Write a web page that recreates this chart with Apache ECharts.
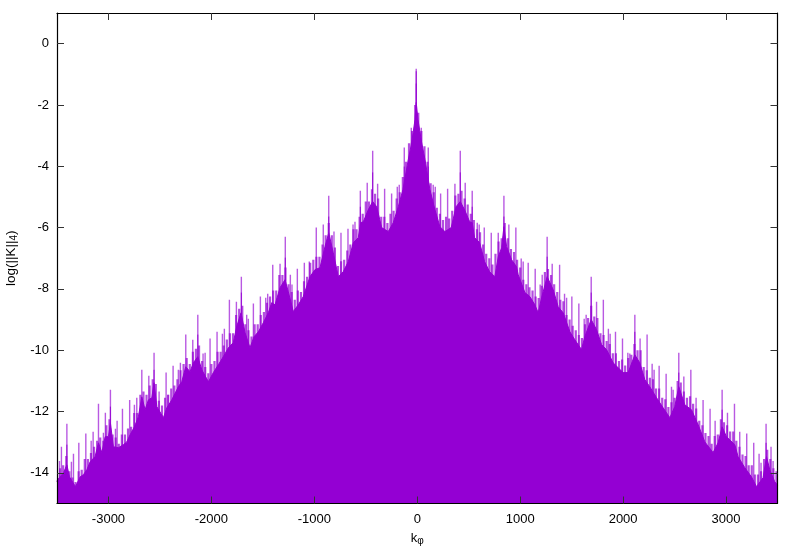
<!DOCTYPE html>
<html><head><meta charset="utf-8">
<style>html,body{margin:0;padding:0;background:#fff}#c{width:800px;height:560px}</style>
<script src="https://cdn.jsdelivr.net/npm/echarts@6/dist/echarts.min.js"></script>
</head><body><div id="c"></div>
<script>
const xTicks=[-3000,-2000,-1000,0,1000,2000,3000];
const yTicks=[0,-2,-4,-6,-8,-10,-12,-14];
const floorK=[-3500,-3496,-3437,-3404,-3379,-3321,-3275,-3243,-3210,-3178,-3130,-3097,-3064,-3032,-3000,-2981,-2952,-2903,-2855,-2822,-2790,-2748,-2709,-2676,-2644,-2612,-2579,-2557,-2530,-2466,-2433,-2385,-2321,-2288,-2249,-2207,-2175,-2132,-2093,-2029,-1981,-1932,-1884,-1835,-1787,-1754,-1712,-1673,-1625,-1586,-1544,-1495,-1447,-1414,-1382,-1333,-1285,-1253,-1204,-1156,-1107,-1042,-993,-945,-896,-860,-816,-767,-719,-670,-621,-573,-550,-524,-476,-433,-394,-346,-282,-233,-184,-139,-87,-54,-22,-10,7,43,75,123,172,220,269,330,377,418,460,509,534,557,606,654,703,754,787,820,842,868,917,965,981,1046,1094,1143,1175,1208,1262,1321,1369,1418,1483,1531,1596,1628,1690,1742,1791,1839,1903,2000,2049,2114,2162,2211,2259,2325,2389,2454,2502,2541,2599,2664,2729,2794,2874,2923,2962,3004,3085,3117,3182,3247,3296,3360,3393,3425,3473,3500];
const floorV=[-14.3,-14.23,-14.0,-13.74,-14.13,-14.45,-14.13,-14.06,-13.9,-13.64,-13.47,-13.02,-13.34,-12.82,-12.82,-12.37,-13.15,-13.18,-13.08,-12.99,-12.76,-12.5,-12.17,-11.52,-11.94,-11.62,-11.55,-11.06,-11.84,-12.2,-11.88,-11.62,-11.19,-11.03,-10.54,-10.7,-10.41,-10.21,-10.64,-11.03,-10.73,-10.47,-10.21,-9.92,-9.75,-9.23,-8.78,-9.43,-9.92,-9.56,-9.4,-9.1,-8.78,-8.45,-8.52,-7.96,-7.7,-8.09,-8.74,-8.52,-8.25,-7.6,-7.37,-7.31,-6.62,-6.17,-6.82,-7.6,-7.44,-7.11,-6.49,-6.33,-5.84,-5.81,-5.42,-5.15,-5.32,-6.0,-6.13,-5.84,-5.32,-4.76,-3.78,-3.23,-2.48,-1.92,-2.48,-3.23,-3.78,-4.76,-5.42,-5.97,-6.13,-6.0,-5.32,-5.15,-5.42,-5.81,-5.84,-6.33,-6.49,-7.11,-7.44,-7.6,-6.95,-6.66,-5.97,-6.62,-7.05,-7.28,-7.54,-8.12,-8.25,-8.52,-8.78,-8.29,-7.6,-8.03,-8.58,-8.78,-9.4,-9.66,-9.98,-9.56,-9.0,-9.33,-9.82,-9.98,-10.41,-10.73,-10.73,-10.15,-10.41,-10.96,-11.19,-11.55,-11.88,-12.2,-11.84,-11.19,-11.78,-11.94,-12.43,-12.99,-13.34,-13.02,-12.5,-12.82,-13.08,-13.47,-13.83,-14.13,-14.45,-14.16,-13.47,-13.9,-14.29,-14.4];
const peakK=[-3476,-3457,-3404,-3360,-3340,-3288,-3220,-3168,-3149,-3097,-3049,-3030,-2981,-2932,-2916,-2864,-2794,-2748,-2725,-2676,-2608,-2557,-2508,-2440,-2421,-2372,-2321,-2301,-2249,-2181,-2132,-2081,-2061,-2013,-1945,-1893,-1874,-1825,-1757,-1709,-1657,-1641,-1592,-1524,-1472,-1453,-1404,-1333,-1282,-1233,-1217,-1165,-1097,-1049,-981,-913,-860,-809,-741,-673,-624,-605,-553,-486,-433,-385,-317,-249,-194,-175,-126,-58,-10,39,107,155,175,227,295,366,418,466,534,583,602,651,719,787,842,890,958,1010,1029,1078,1146,1194,1214,1262,1311,1383,1431,1451,1502,1570,1622,1641,1690,1742,1808,1857,1874,1926,1994,2046,2065,2114,2165,2233,2282,2301,2350,2418,2470,2486,2541,2590,2658,2709,2777,2845,2894,2962,3014,3082,3133,3201,3269,3321,3340,3389,3437,3457];
const peakV=[-13.61,-13.15,-12.4,-13.64,-13.38,-13.02,-12.72,-12.95,-12.66,-11.75,-12.69,-12.04,-11.29,-12.56,-12.3,-11.91,-11.62,-11.78,-11.55,-10.64,-10.83,-10.08,-11.35,-10.73,-11.45,-10.51,-10.64,-10.41,-9.49,-9.66,-8.84,-10.11,-10.08,-9.62,-9.4,-9.46,-9.3,-8.35,-8.42,-7.6,-8.84,-8.97,-8.48,-8.25,-8.29,-8.16,-7.21,-7.18,-6.3,-7.54,-7.86,-7.34,-7.15,-7.11,-6.0,-5.9,-4.96,-6.13,-6.17,-6.04,-5.9,-5.81,-4.8,-4.54,-3.49,-4.57,-4.73,-4.89,-4.67,-4.6,-3.39,-2.74,-0.82,-2.74,-3.39,-4.6,-4.67,-4.89,-4.73,-4.57,-3.49,-4.54,-4.8,-5.84,-5.9,-6.0,-6.17,-6.17,-4.96,-5.9,-6.0,-7.01,-7.11,-7.15,-7.34,-7.86,-7.54,-6.3,-7.18,-7.21,-8.16,-8.29,-8.25,-8.48,-8.97,-8.84,-7.6,-8.42,-8.35,-9.3,-9.46,-9.4,-9.62,-10.08,-10.11,-8.84,-9.62,-9.49,-10.44,-10.64,-10.51,-10.77,-11.19,-11.29,-10.08,-10.86,-10.64,-11.55,-11.62,-11.91,-12.3,-11.29,-12.04,-11.75,-12.66,-12.72,-13.02,-13.38,-13.67,-12.4,-13.15,-13.61];
const coreK=[-3404,-2981,-2557,-2132,-1709,-1282,-860,-553,-433,-126,-58,-10,-10,39,107,418,534,842,1262,1690,2114,2541,2962,3389];
const coreV=[-13.08,-11.84,-10.64,-9.49,-8.12,-6.98,-5.64,-5.32,-4.2,-4.01,-3.23,-1.3,-0.9,-3.23,-4.01,-4.2,-5.32,-5.64,-6.95,-8.12,-9.4,-10.73,-11.94,-13.02];
const rimStartK=-3500, rimStepK=30;
const rimV=[-14.0,-13.85,-13.75,-13.45,-13.95,-14.15,-14.3,-13.95,-13.9,-13.55,-13.55,-13.35,-13.15,-12.95,-12.85,-12.95,-12.45,-12.25,-12.75,-12.85,-13.05,-12.75,-12.75,-12.55,-12.5,-12.05,-12.05,-11.45,-11.35,-11.45,-11.15,-10.95,-11.1,-11.65,-11.8,-11.55,-11.45,-11.25,-11.15,-10.95,-10.65,-10.45,-10.25,-10.45,-10.05,-9.95,-9.85,-10.35,-10.55,-10.75,-10.45,-10.35,-10.05,-10.05,-9.85,-9.65,-9.45,-9.45,-8.85,-8.65,-8.55,-9.15,-9.35,-9.55,-9.15,-9.15,-8.85,-8.75,-8.45,-8.25,-8.05,-8.05,-7.55,-7.55,-7.3,-7.85,-8.1,-8.35,-8.05,-8.1,-7.75,-7.6,-7.15,-7.05,-6.95,-6.95,-6.55,-6.25,-5.85,-6.25,-6.65,-7.25,-7.1,-7.05,-6.75,-6.55,-6.05,-6.05,-5.65,-5.55,-5.15,-5.15,-4.75,-4.9,-5.05,-5.65,-5.65,-5.85,-5.55,-5.45,-5.05,-4.85,-4.35,-3.85,-3.25,-2.85,-2.0,-2.25,-2.85,-3.35,-3.85,-4.55,-4.85,-5.35,-5.55,-5.75,-5.65,-5.7,-5.45,-4.95,-4.9,-4.8,-5.05,-5.25,-5.55,-5.75,-6.05,-6.15,-6.55,-6.85,-7.0,-7.2,-6.85,-6.45,-6.35,-5.85,-6.35,-6.7,-6.8,-7.05,-7.3,-7.7,-7.85,-7.95,-8.05,-8.25,-8.3,-7.9,-7.45,-7.35,-7.55,-7.85,-8.1,-8.35,-8.4,-8.85,-9.0,-9.2,-9.35,-9.5,-9.6,-9.15,-8.95,-8.55,-8.9,-8.95,-9.45,-9.5,-9.7,-9.8,-10.1,-10.1,-10.35,-10.3,-10.5,-10.25,-10.15,-9.8,-10.0,-10.0,-10.55,-10.65,-10.9,-10.95,-11.25,-11.25,-11.55,-11.6,-11.85,-11.7,-11.55,-11.0,-11.05,-11.35,-11.55,-11.5,-11.75,-11.9,-12.3,-12.45,-12.7,-12.8,-13.05,-12.8,-12.75,-12.25,-12.35,-12.45,-12.65,-12.65,-12.95,-13.15,-13.4,-13.45,-13.75,-13.75,-14.05,-14.05,-13.95,-13.55,-13.25,-13.55,-13.85,-13.95];
const VIOLET='#9400d3', FONT='"Liberation Sans", Arial, sans-serif';
const floorData=floorK.map((k,i)=>[k,floorV[i]]);
const peakData=peakK.map((k,i)=>[k,peakV[i]]);
const coreData=coreK.map((k,i)=>[k,coreV[i]]);
const rimData=rimV.map((v,i)=>[rimStartK+i*rimStepK,v]);
const common={min:-3500,max:3500,type:'value',splitLine:{show:false},z:10};
const line={show:true,onZero:false,lineStyle:{color:'#000',width:1.2}};
const tick={show:true,inside:true,length:7,lineStyle:{color:'#333',width:1}};
const stem=(lineWidth,opacity)=>(p,api)=>{
  const a=api.coord([api.value(0),-15]),b=api.coord([api.value(0),api.value(1)]);
  return {type:'line',shape:{x1:a[0],y1:a[1],x2:b[0],y2:b[1]},style:{stroke:VIOLET,lineWidth,opacity}};
};
const chart=echarts.init(document.getElementById('c'),null,{renderer:'canvas'});
chart.setOption({
 animation:false,backgroundColor:'#fff',
 grid:{left:57,right:22.5,top:13,bottom:56.5,containLabel:false,outerBoundsMode:'none'},
 xAxis:[
  {...common,position:'bottom',axisLine:line,axisTick:{...tick,customValues:xTicks},
   axisLabel:{customValues:xTicks,formatter:v=>String(v),color:'#000',fontFamily:FONT,fontSize:13,margin:9},
   name:'{a|k}{b|φ}',nameLocation:'middle',nameGap:27,
   nameTextStyle:{rich:{a:{fontFamily:FONT,fontSize:13,color:'#000'},b:{fontFamily:FONT,fontSize:10,color:'#000',verticalAlign:'bottom',padding:[6,0,0,0]}}}},
  {...common,position:'top',axisLine:line,axisTick:{...tick,customValues:xTicks},axisLabel:{show:false}}
 ],
 yAxis:[
  {type:'value',min:-15,max:1,splitLine:{show:false},z:10,position:'left',axisLine:line,axisTick:{...tick,customValues:yTicks},
   axisLabel:{customValues:yTicks,formatter:v=>String(v),color:'#000',fontFamily:FONT,fontSize:13,margin:8,padding:[2,0,0,0]},
   name:'{a|log(||K||}{b|4}{a|)}',nameLocation:'middle',nameGap:35,
   nameTextStyle:{rich:{a:{fontFamily:FONT,fontSize:13.5,color:'#000'},b:{fontFamily:FONT,fontSize:10,color:'#000',padding:[6,0,0,0]}}}},
  {type:'value',min:-15,max:1,splitLine:{show:false},z:10,position:'right',axisLine:line,axisTick:{...tick,customValues:yTicks},axisLabel:{show:false}}
 ],
 series:[
  {type:'line',name:'floor',data:floorData,showSymbol:false,silent:true,smooth:false,clip:true,
   lineStyle:{color:VIOLET,width:1},areaStyle:{color:VIOLET,origin:'start',opacity:1}},
  {type:'custom',name:'rim',data:rimData,silent:true,clip:true,renderItem:stem(2.2,0.7)},
  {type:'custom',name:'peaks',data:peakData,silent:true,clip:true,renderItem:stem(1.4,0.65)},
  {type:'custom',name:'cores',data:coreData,silent:true,clip:true,renderItem:stem(1,0.9)}
 ]
});
</script></body></html>
